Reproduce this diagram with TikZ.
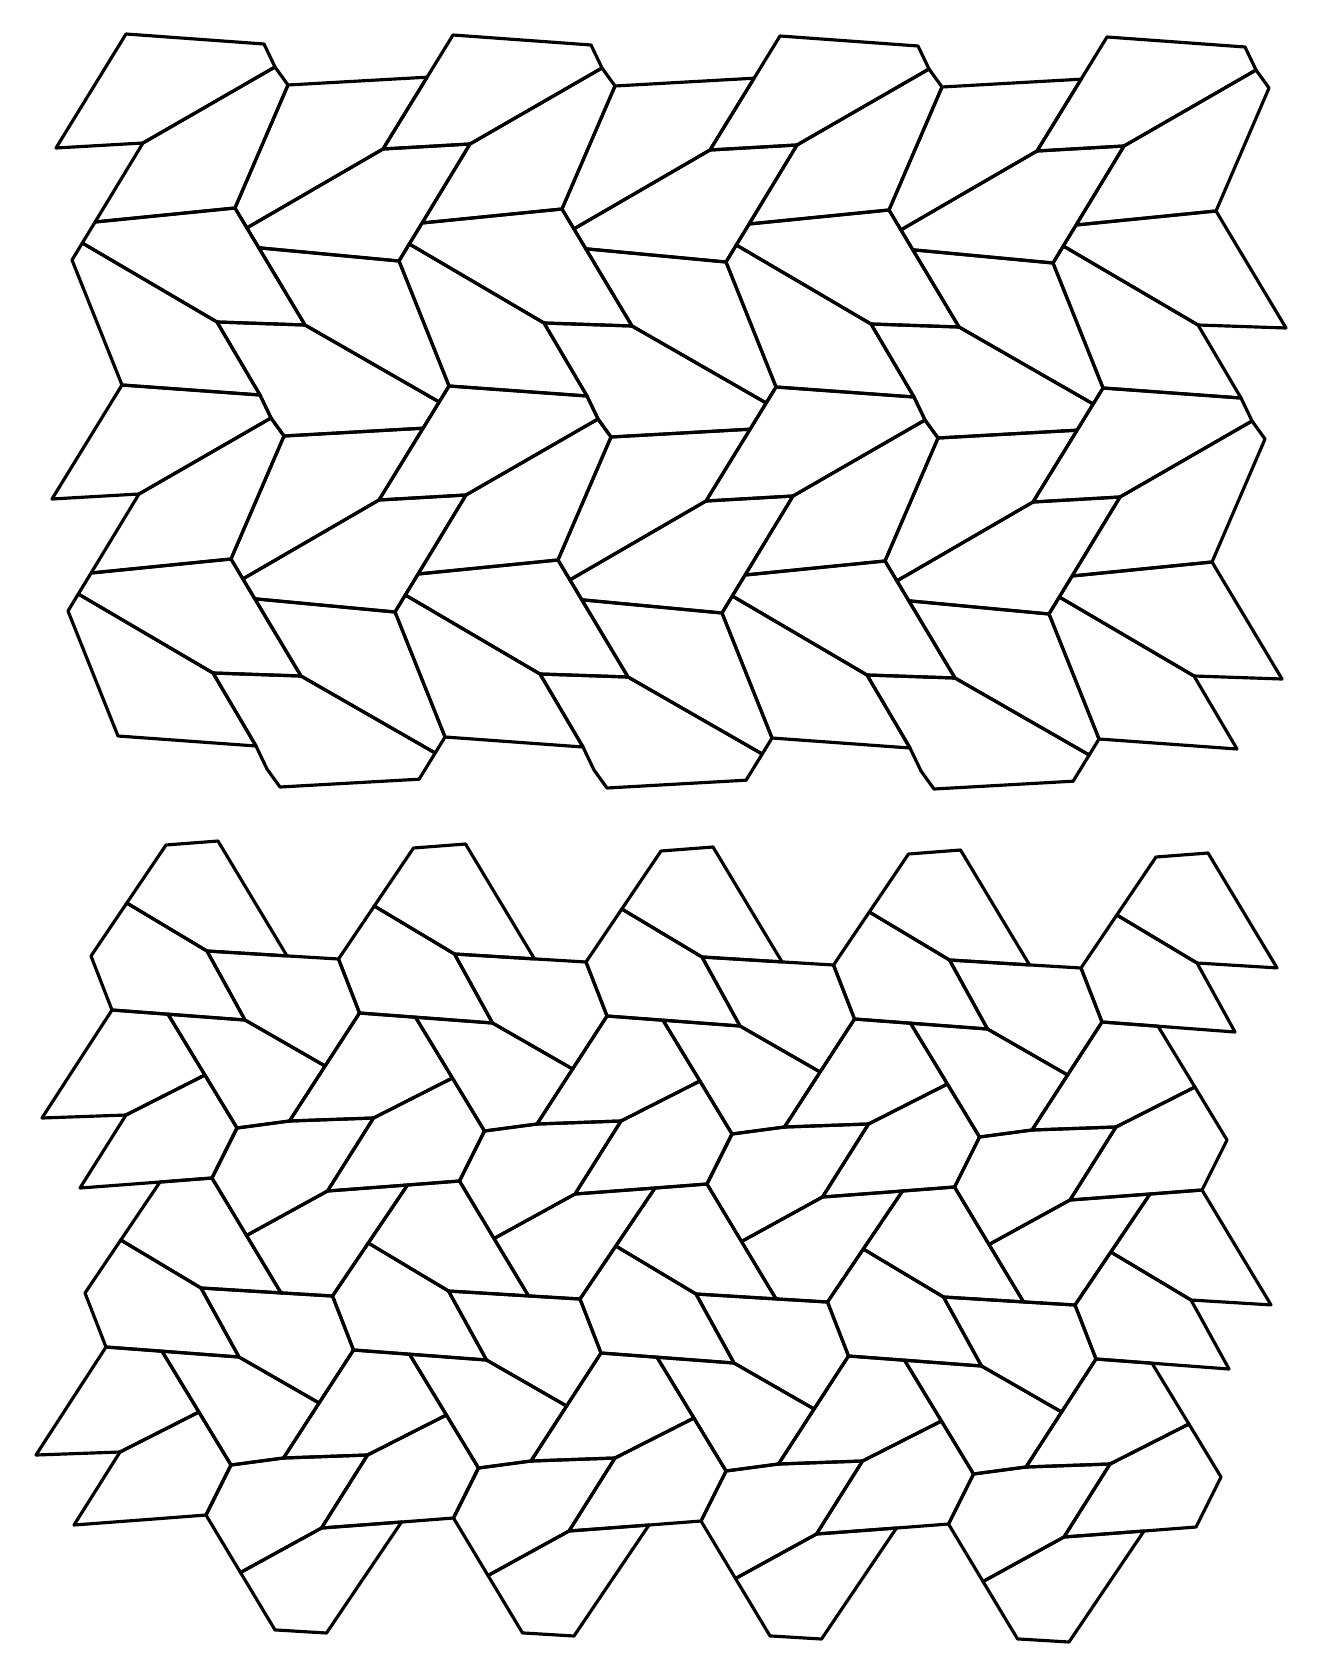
\documentclass[tikz,border=0pt]{standalone}
\usepackage{tikz}

% lattice steps of the two tilings (cm)
\def\upax{3.27}\def\upay{-0.01}\def\upbx{-0.04}\def\upby{-3.51}
\def\loax{2.475}\def\loay{-0.03}\def\lobx{-0.06}\def\loby{-3.37}

\begin{document}
\begin{tikzpicture}[
    tile/.style={draw=black, line width=0.9pt, line join=round}
]
\useasboundingbox (0,0) rectangle (13.2,-16.6);

% upper tiling
\foreach \j in {0,1} {
  \foreach \i in {0,...,3} {
    \begin{scope}[shift={(\i*\upax+\j*\upbx,\i*\upay+\j*\upby)}]
      \coordinate (A) at (1.26,-0.34);
      \coordinate (B) at (2.64,-0.44);
      \coordinate (C) at (2.75,-0.67);
      \coordinate (D) at (2.88,-0.85);
      \coordinate (E) at (0.56,-1.48);
      \coordinate (F) at (1.43,-1.43);
      \coordinate (K) at (2.35,-2.08);
      \coordinate (L) at (0.951,-2.22);
      \coordinate (M) at (0.823,-2.43);
      \coordinate (N) at (0.72,-2.60);
      \coordinate (O) at (2.469,-2.279);
      \coordinate (P) at (2.588,-2.478);
      \coordinate (T) at (2.17,-3.22);
      \coordinate (U) at (3.05,-3.25);
      % corners of the next cells
      \coordinate (Ea) at (0.56+\upax,-1.48+\upay);
      \coordinate (G0a) at (1.001+\upax,-0.762+\upay);
      \coordinate (Fa) at (1.43+\upax,-1.43+\upay);
      \coordinate (La) at (0.951+\upax,-2.22+\upay);
      \coordinate (Ma) at (0.823+\upax,-2.43+\upay);
      \coordinate (Na) at (0.72+\upax,-2.60+\upay);
      \coordinate (Ab) at (1.26+\upbx,-0.34+\upby);
      \coordinate (Bb) at (2.64+\upbx,-0.44+\upby);
      \coordinate (Cb) at (2.75+\upbx,-0.67+\upby);
      \coordinate (Db) at (2.88+\upbx,-0.85+\upby);
      \coordinate (Aab) at (1.26+\upax+\upbx,-0.34+\upay+\upby);
      \coordinate (Y0ab) at (1.162+\upax+\upbx,-0.50+\upay+\upby);
      \coordinate (G0ab) at (1.001+\upax+\upbx,-0.762+\upay+\upby);

      \draw[tile] (A) -- (B) -- (C) -- (F) -- (E) -- cycle;
      \draw[tile] (F) -- (C) -- (D) -- (K) -- (L) -- cycle;
      \draw[tile] (K) -- (O) -- (P) -- (U) -- (T) -- (M) -- (L) -- cycle;
      \draw[tile] (T) -- (Bb) -- (Ab) -- (N) -- (M) -- cycle;
      \ifnum\i<3
        \draw[tile] (D) -- (G0a) -- (Ea) -- (O) -- (K) -- cycle;
        \draw[tile] (O) -- (Ea) -- (Fa) -- (La) -- (Ma) -- (Na) -- (P) -- cycle;
        \draw[tile] (P) -- (Na) -- (Aab) -- (Y0ab) -- (U) -- cycle;
        \draw[tile] (T) -- (U) -- (Y0ab) -- (G0ab) -- (Db) -- (Cb) -- (Bb) -- cycle;
      \fi
    \end{scope}
  }
}

% lower tiling
\foreach \j in {0,1} {
  \foreach \i in {0,...,4} {
    \begin{scope}[shift={(\i*\loax+\j*\lobx,\i*\loay+\j*\loby)}]
      \coordinate (p1) at (1.66,-8.45);
      \coordinate (p2) at (2.18,-8.41);
      \coordinate (pq) at (2.525,-8.985);
      \coordinate (p3) at (1.268,-9.03);
      \coordinate (p4) at (0.91,-9.56);
      \coordinate (p5) at (2.07,-9.51);
      \coordinate (p6) at (2.87,-9.559);
      \coordinate (p8) at (1.12,-10.10);
      \coordinate (p9) at (1.68,-10.142);
      \coordinate (p10) at (2.45,-10.20);
      \coordinate (p11) at (0.776,-10.63);
      \coordinate (p18) at (0.42,-11.18);
      \coordinate (p19) at (1.26,-11.15);
      \coordinate (p20) at (2.049,-10.75);
      \coordinate (p21) at (2.37,-11.28);
      \coordinate (p25) at (0.80,-11.88);
      % corners of the next cells
      \coordinate (p4a) at (0.91+\loax,-9.56+\loay);
      \coordinate (p8a) at (1.12+\loax,-10.10+\loay);
      \coordinate (p11a) at (0.776+\loax,-10.63+\loay);
      \coordinate (p18a) at (0.42+\loax,-11.18+\loay);
      \coordinate (p19a) at (1.26+\loax,-11.15+\loay);
      \coordinate (p25a) at (0.80+\loax,-11.88+\loay);
      \coordinate (p1b) at (1.66+\lobx,-8.45+\loby);
      \coordinate (p2b) at (2.18+\lobx,-8.41+\loby);
      \coordinate (pqb) at (2.525+\lobx,-8.985+\loby);
      \coordinate (p6b) at (2.87+\lobx,-9.559+\loby);
      \coordinate (p1ab) at (1.66+\loax+\lobx,-8.45+\loay+\loby);
      \coordinate (p3ab) at (1.268+\loax+\lobx,-9.03+\loay+\loby);
      \coordinate (p4ab) at (0.91+\loax+\lobx,-9.56+\loay+\loby);

      \draw[tile] (p1) -- (p2) -- (pq) -- (p6) -- (p5) -- (p3) -- cycle;
      \draw[tile] (p3) -- (p5) -- (p10) -- (p9) -- (p8) -- (p4) -- cycle;
      \draw[tile] (p8) -- (p9) -- (p20) -- (p19) -- (p18) -- (p11) -- cycle;
      \draw[tile] (p19) -- (p20) -- (p21) -- (p2b) -- (p1b) -- (p25) -- cycle;
      \ifnum\i<4
        \draw[tile] (p5) -- (p6) -- (p4a) -- (p8a) -- (p11a) -- (p10) -- cycle;
        \draw[tile] (p9) -- (p10) -- (p11a) -- (p18a) -- (p21) -- (p20) -- cycle;
        \draw[tile] (p21) -- (p18a) -- (p19a) -- (p25a) -- (pqb) -- (p2b) -- cycle;
        \draw[tile] (p1ab) -- (p25a) -- (pqb) -- (p6b) -- (p4ab) -- (p3ab) -- cycle;
      \fi
    \end{scope}
  }
}
\end{tikzpicture}
\end{document}
